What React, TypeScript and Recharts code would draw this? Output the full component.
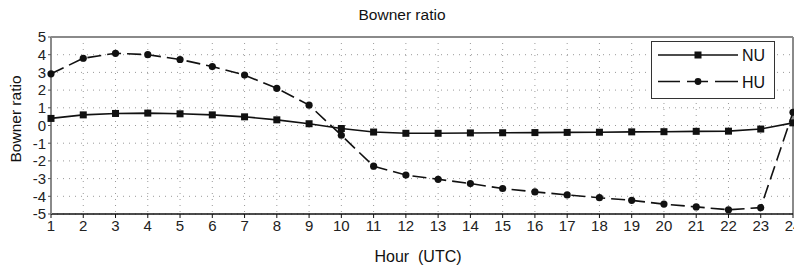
import React from 'react';
import { LineChart, Line, XAxis, YAxis, CartesianGrid, ReferenceLine } from 'recharts';

const hours = [1, 2, 3, 4, 5, 6, 7, 8, 9, 10, 11, 12, 13, 14, 15, 16, 17, 18, 19, 20, 21, 22, 23, 24];
const nuValues = [0.4, 0.6, 0.68, 0.7, 0.66, 0.6, 0.49, 0.32, 0.1, -0.17, -0.37, -0.44, -0.44, -0.42, -0.41, -0.4, -0.39, -0.38, -0.36, -0.35, -0.33, -0.32, -0.2, 0.15];
const huValues = [2.92, 3.8, 4.08, 4.0, 3.73, 3.33, 2.85, 2.1, 1.15, -0.55, -2.3, -2.8, -3.04, -3.28, -3.56, -3.75, -3.92, -4.08, -4.23, -4.44, -4.6, -4.76, -4.64, 0.75];
const yTicks = [-5, -4, -3, -2, -1, 0, 1, 2, 3, 4, 5];
const seriesNames = ['NU', 'HU'];

const data = hours.map((h, i) => ({ hour: h, NU: nuValues[i], HU: huValues[i] }));

const FONT = '"Liberation Sans", Arial, Helvetica, sans-serif';

const SquareDot = (props: any) => {
  const { cx, cy, index } = props;
  if (cx == null || cy == null) return <g key={`s${index}`} />;
  return <rect key={`s${index}`} x={cx - 3.5} y={cy - 3.5} width={7} height={7} fill="#111" />;
};

const CircleDot = (props: any) => {
  const { cx, cy, index } = props;
  if (cx == null || cy == null) return <g key={`c${index}`} />;
  return <circle key={`c${index}`} cx={cx} cy={cy} r={3.6} fill="#111" />;
};

const LegendBox = () => (
  <div
    style={{
      position: 'absolute',
      left: 651,
      top: 41,
      width: 124,
      height: 58,
      border: '1px solid #333',
      background: '#fff',
      boxSizing: 'border-box',
    }}
  >
    <svg width={124} height={58} style={{ position: 'absolute', left: -1, top: -1 }}>
      <line x1={7} y1={14} x2={87} y2={14} stroke="#111" strokeWidth={1.6} />
      <rect x={43.5} y={10.5} width={7} height={7} fill="#111" />
      <line x1={7} y1={40.5} x2={87} y2={40.5} stroke="#111" strokeWidth={1.6} strokeDasharray="22 7 21 7 30" />
      <circle cx={47} cy={40.5} r={3.4} fill="#111" />
      <text x={91} y={20} fontFamily={FONT} fontSize={16} fill="#111">{seriesNames[0]}</text>
      <text x={91} y={46.5} fontFamily={FONT} fontSize={16} fill="#111">{seriesNames[1]}</text>
    </svg>
  </div>
);

export default function App() {
  return (
    <div style={{ position: 'absolute', left: 0, top: 0, width: 794, height: 270, background: '#fff', fontFamily: FONT }}>
      <div style={{ position: 'absolute', left: 0, top: 6, width: 804, textAlign: 'center', fontSize: 15.5, color: '#111' }}>
        Bowner ratio
      </div>
      <div style={{ position: 'absolute', left: 0, top: 248, width: 836, textAlign: 'center', fontSize: 16, color: '#111', whiteSpace: 'pre' }}>
        {'Hour  (UTC)'}
      </div>
      <div
        style={{
          position: 'absolute',
          left: 16,
          top: 119,
          transform: 'translate(-50%, -50%) rotate(-90deg)',
          fontSize: 15.5,
          color: '#111',
          whiteSpace: 'nowrap',
        }}
      >
        Bowner ratio
      </div>
      <LineChart width={794} height={270} data={data} margin={{ top: 37, right: 1, bottom: 0, left: 0 }}>
        <CartesianGrid stroke="#9a9a9a" strokeDasharray="1 5" vertical horizontal />
        <XAxis
          dataKey="hour"
          type="number"
          domain={[1, 24]}
          ticks={hours}
          interval={0}
          height={56}
          tickSize={4}
          tickMargin={2}
          axisLine={{ stroke: '#111', strokeWidth: 1.5 }}
          tickLine={{ stroke: '#111' }}
          tick={{ fontSize: 15, fill: '#222', fontFamily: FONT }}
        />
        <YAxis
          type="number"
          domain={[-5, 5]}
          ticks={yTicks}
          interval={0}
          width={51}
          tickSize={3}
          tickMargin={2}
          axisLine={{ stroke: '#8a8a8a', strokeWidth: 2 }}
          tickLine={{ stroke: '#555' }}
          tick={{ fontSize: 15, fill: '#222', fontFamily: FONT }}
        />
        <ReferenceLine y={5} stroke="#8a8a8a" strokeWidth={2} />
        <ReferenceLine x={24} stroke="#8a8a8a" strokeWidth={2} />
        <Line
          dataKey="NU"
          name={seriesNames[0]}
          stroke="#111"
          strokeWidth={1.6}
          dot={SquareDot}
          isAnimationActive={false}
        />
        <Line
          dataKey="HU"
          name={seriesNames[1]}
          stroke="#111"
          strokeWidth={1.6}
          strokeDasharray="14 6"
          dot={CircleDot}
          isAnimationActive={false}
        />
      </LineChart>
      <LegendBox />
    </div>
  );
}
